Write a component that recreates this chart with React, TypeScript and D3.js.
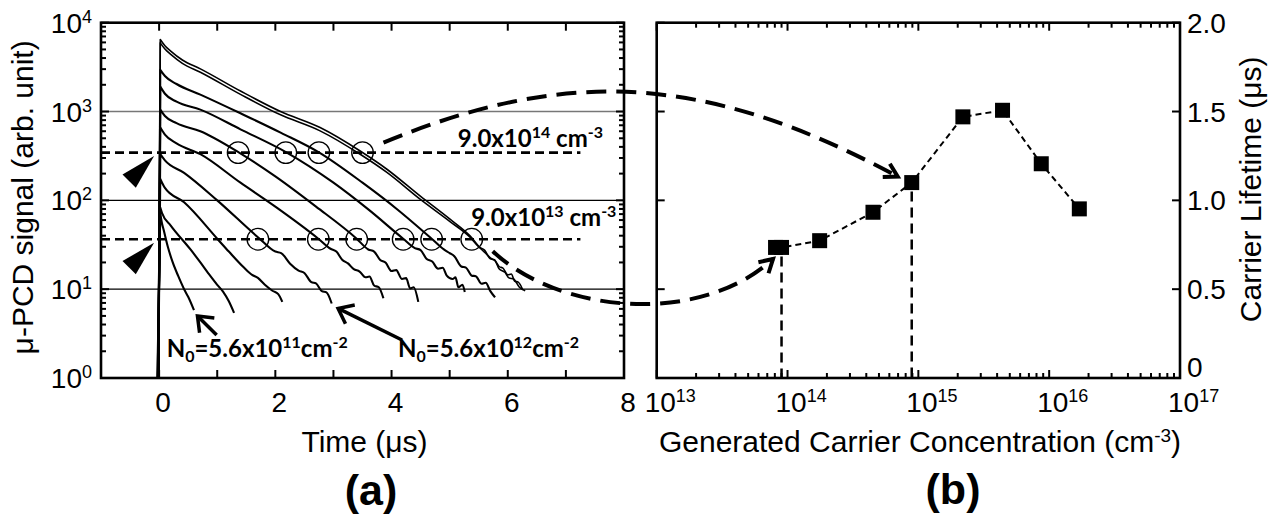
import React from "react";
import * as d3 from "d3";

const WIDTH = 1282;
const HEIGHT = 517;

// ---------------- Panel (a): μ-PCD decay curves (time μs, signal) ----------------
const curve0: [number, number][] = [[0.02, 71], [0.05, 55], [0.08, 46], [0.15, 30], [0.23, 20.4], [0.33, 14], [0.43, 10], [0.5, 8.2], [0.6, 5.8]];
const curve1: [number, number][] = [[0.02, 83], [0.05, 72], [0.2, 52], [0.54, 28], [0.71, 20], [0.85, 15], [1.0, 11.2], [1.1, 9.4], [1.2, 7.3], [1.29, 5.4]];
const curve2: [number, number][] = [[0.02, 174], [0.1, 138], [0.43, 95], [1.0, 37], [1.2, 26.5], [1.46, 17.5], [1.6, 14.5], [1.7, 13.4], [1.82, 11.2], [1.95, 9.6], [2.05, 8.8], [2.12, 7.2]];
const curve3: [number, number][] = [[0.02, 331], [0.1, 282], [0.43, 204], [1.0, 100], [1.71, 38], [2.0, 26.5], [2.1, 25.5], [2.25, 19.5], [2.4, 16.2], [2.5, 15.2], [2.62, 12], [2.7, 11.6], [2.8, 9.5], [2.88, 9.2], [2.97, 6.9]];
const curve4: [number, number][] = [[0.02, 660], [0.1, 550], [0.3, 437], [0.71, 331], [1.4, 158], [2.0, 85], [2.74, 37], [2.95, 28.5], [3.05, 26.5], [3.15, 21.5], [3.25, 19.5], [3.35, 16.8], [3.45, 15.8], [3.55, 13.6], [3.62, 13.9], [3.7, 11], [3.78, 10.5], [3.86, 7.9]];
const curve5: [number, number][] = [[0.02, 1050], [0.1, 890], [0.3, 740], [0.71, 600], [1.37, 347], [2.0, 186], [2.7, 85], [3.4, 37], [3.6, 28], [3.7, 26.5], [3.8, 21.5], [3.9, 19.8], [4.0, 16], [4.08, 16.4], [4.18, 13], [4.25, 13.3], [4.32, 10.2], [4.38, 10.5], [4.46, 7.2]];
const curve6: [number, number][] = [[0.02, 1905], [0.1, 1585], [0.3, 1290], [0.71, 1050], [1.4, 630], [2.19, 347], [3.0, 158], [3.6, 79], [4.2, 37], [4.4, 29], [4.5, 27.5], [4.6, 22], [4.7, 20.5], [4.8, 17], [4.88, 17.4], [4.95, 14.2], [5.05, 13], [5.1, 13.6], [5.15, 10.5], [5.22, 11.2], [5.26, 9.3]];
const curve7: [number, number][] = [[0.02, 2950], [0.1, 2510], [0.3, 2040], [0.71, 1550], [1.4, 955], [2.1, 575], [2.75, 347], [3.5, 158], [4.1, 79], [4.69, 37], [4.9, 28], [5.0, 25.5], [5.08, 23.5], [5.2, 18], [5.28, 17.5], [5.38, 14.2], [5.45, 14], [5.55, 11.5], [5.62, 11.8], [5.7, 9.5], [5.78, 8.1]];
const curve8: [number, number][] = [[0.02, 5930], [0.1, 5050], [0.2, 4400], [0.4, 3490], [0.71, 2770], [1.4, 1560], [2.09, 918], [2.77, 606], [3.46, 330], [3.92, 206], [4.49, 103], [5.0, 58], [5.35, 38.5], [5.5, 30], [5.6, 27.5], [5.7, 22], [5.77, 21.5], [5.85, 17], [5.95, 15.5], [6.02, 13.4], [6.1, 13], [6.2, 10.5], [6.3, 9.6]];
const curve9: [number, number][] = [[0.02, 6460], [0.1, 5500], [0.2, 4790], [0.4, 3800], [0.71, 3020], [1.4, 1700], [2.09, 1000], [2.77, 660], [3.46, 359], [3.92, 224], [4.49, 112], [5.0, 61.7], [5.35, 39.8], [5.55, 28], [5.63, 25], [5.72, 22], [5.78, 21], [5.85, 18], [5.92, 17.2], [6.0, 14.5], [6.06, 14.8], [6.12, 12.3], [6.18, 12], [6.26, 9.8]];
const decayCurves = [curve0, curve1, curve2, curve3, curve4, curve5, curve6, curve7, curve8, curve9];
const riseTimes = [-0.03, -0.025, -0.02, -0.02, -0.015, -0.015, -0.01, -0.01, -0.005, -0.005];

const levelValues = [345, 36.5];
const circleTimes14 = [1.36, 2.18, 2.75, 3.5];
const circleTimes13 = [1.7, 2.74, 3.4, 4.2, 4.69, 5.38];
const gridValues = [10, 100, 1000];
const timeTicks = [-1, 0, 1, 2, 3, 4, 5, 6, 7, 8];
const timeTickLabels = [0, 2, 4, 6, 8];
const signalExponents = [0, 1, 2, 3, 4];

// ---------------- Panel (b): carrier lifetime vs generated carrier concentration ----------------
const concentration = [8.1e13, 9.0e13, 1.76e14, 4.5e14, 8.9e14, 2.19e15, 4.4e15, 8.7e15, 1.7e16];
const lifetime = [0.735, 0.735, 0.773, 0.933, 1.1, 1.47, 1.507, 1.206, 0.952];
const markedIndex = [1, 4];
const concExponents = [13, 14, 15, 16, 17];
const lifetimeTicks = [0, 0.5, 1, 1.5, 2];
const lifetimeTickLabels = ["0", "0.5", "1.0", "1.5", "2.0"];

const AX = "'Liberation Sans', Arial, sans-serif";
const AN = "Lato, 'Open Sans', sans-serif";
const TICK_FS = 28;
const SUP_FS = 18;
const TITLE_FS = 30;

function chevron(tip: [number, number], from: [number, number], len: number, deg: number) {
  const a = Math.atan2(from[1] - tip[1], from[0] - tip[0]);
  const r = (deg * Math.PI) / 180;
  const p1 = [tip[0] + len * Math.cos(a + r), tip[1] + len * Math.sin(a + r)];
  const p2 = [tip[0] + len * Math.cos(a - r), tip[1] + len * Math.sin(a - r)];
  return `M${p1[0]},${p1[1]}L${tip[0]},${tip[1]}L${p2[0]},${p2[1]}`;
}

export default function App() {
  const xA = d3.scaleLinear().domain([-1, 8]).range([101, 624]);
  const yA = d3.scaleLog().domain([1, 1e4]).range([378, 22.7]);
  const xB = d3.scaleLog().domain([1e13, 1e17]).range([656.7, 1180]);
  const yB = d3.scaleLinear().domain([0, 2]).range([378, 22.7]);

  const lineA = d3
    .line<[number, number]>()
    .x((d) => xA(d[0]))
    .y((d) => yA(d[1]))
    .curve(d3.curveMonotoneX);
  const curvePath = (pts: [number, number][], rise: number) =>
    `M${xA(rise)},${yA(1)}L` + (lineA(pts) as string).slice(1);

  const [aL, aR] = xA.range();
  const [aB, aT] = yA.range();
  const [bL, bR] = xB.range();
  const [bB, bT] = yB.range();

  const logTicksA: { v: number; major: boolean }[] = [];
  for (let e = 0; e < 4; e++) for (let m = 1; m <= 9; m++) logTicksA.push({ v: m * 10 ** e, major: m === 1 });
  logTicksA.push({ v: 1e4, major: true });
  const logTicksB: { v: number; major: boolean }[] = [];
  for (let e = 13; e < 17; e++) for (let m = 1; m <= 9; m++) logTicksB.push({ v: m * 10 ** e, major: m === 1 });
  logTicksB.push({ v: 1e17, major: true });

  const lineB = d3
    .line<number>()
    .x((_, i) => xB(concentration[i]))
    .y((d) => yB(d));

  const s1: [number, number] = [xA(circleTimes14[3]) + 21, yA(levelValues[0]) - 10];
  const e1: [number, number] = [xB(concentration[4]) - 14, yB(lifetime[4]) - 6];
  const c11: [number, number] = [s1[0] + 177, aT + 47];
  const c12: [number, number] = [e1[0] - 198, aT + 47];
  const s2: [number, number] = [xA(circleTimes13[5]) + 21, yA(levelValues[1]) + 12];
  const e2: [number, number] = [xB(concentration[1]) - 8.5, yB(lifetime[1]) + 11.5];
  const c21: [number, number] = [s2[0] + 67, s2[1] + 63];
  const c22: [number, number] = [e2[0] - 73, e2[1] + 67];

  const tri = (v: number) => {
    const tx = xA(0) - 5;
    const ty = yA(v) + 3.5;
    return `M${tx},${ty}L${tx - 31.6},${ty + 18.3}L${tx - 18.3},${ty + 31.6}Z`;
  };

  return (
    <svg width={WIDTH} height={HEIGHT} style={{ position: "absolute", left: 0, top: 0, background: "#fff" }}>
      <rect x={0} y={0} width={WIDTH} height={HEIGHT} fill="#fff" />
      {/* ---------- Panel (a) ---------- */}
      {gridValues.map((g) => (
        <line key={g} x1={aL} x2={aR} y1={yA(g)} y2={yA(g)} stroke={g === 1000 ? "#777" : "#000"} strokeWidth={g === 1000 ? 1.6 : 1.2} />
      ))}
      {levelValues.map((v) => (
        <line key={v} x1={aL} x2={xA(7.25)} y1={yA(v)} y2={yA(v)} stroke="#000" strokeWidth={2.6} strokeDasharray="9 5" />
      ))}
      {decayCurves.map((c, i) => (
        <path key={i} d={curvePath(c, riseTimes[i])} fill="none" stroke="#000" strokeWidth={i >= 8 ? 1.6 : 2.1} strokeLinejoin="round" />
      ))}
      {circleTimes14.map((t) => (
        <circle key={"c14" + t} cx={xA(t)} cy={yA(levelValues[0])} r={10.8} fill="none" stroke="#000" strokeWidth={1.3} />
      ))}
      {circleTimes13.map((t) => (
        <circle key={"c13" + t} cx={xA(t)} cy={yA(levelValues[1])} r={10.8} fill="none" stroke="#000" strokeWidth={1.3} />
      ))}
      {levelValues.map((v) => (
        <path key={"tri" + v} d={tri(v)} fill="#000" />
      ))}
      {logTicksA.map((t, i) => (
        <g key={"la" + i}>
          <line x1={aL} x2={aL + (t.major ? 8 : 5)} y1={yA(t.v)} y2={yA(t.v)} stroke="#000" strokeWidth={2} />
          <line x1={aR} x2={aR - (t.major ? 8 : 5)} y1={yA(t.v)} y2={yA(t.v)} stroke="#000" strokeWidth={2} />
        </g>
      ))}
      {timeTicks.map((t) => (
        <g key={"ta" + t}>
          <line x1={xA(t)} x2={xA(t)} y1={aB} y2={aB - 8} stroke="#000" strokeWidth={2} />
          <line x1={xA(t)} x2={xA(t)} y1={aT} y2={aT + 8} stroke="#000" strokeWidth={2} />
        </g>
      ))}
      <rect x={aL} y={aT} width={aR - aL} height={aB - aT} fill="none" stroke="#000" strokeWidth={2.6} />
      {signalExponents.map((e) => (
        <text key={"ya" + e} x={92} y={yA(10 ** e) + 10} textAnchor="end" fontFamily={AX} fontSize={TICK_FS}>
          <tspan>10</tspan>
          <tspan dy={-10} fontSize={SUP_FS}>{e}</tspan>
        </text>
      ))}
      {timeTickLabels.map((t) => (
        <text key={"xa" + t} x={xA(t) + 4} y={412} textAnchor="middle" fontFamily={AX} fontSize={TICK_FS}>
          {t}
        </text>
      ))}
      <text x={(aL + aR) / 2 + 2} y={452} textAnchor="middle" fontFamily={AX} fontSize={TITLE_FS}>
        Time (μs)
      </text>
      <text transform={`translate(33,${(aT + aB) / 2 - 3}) rotate(-90)`} textAnchor="middle" fontFamily={AX} fontSize={TITLE_FS}>
        μ-PCD signal (arb. unit)
      </text>
      <text x={371} y={505} textAnchor="middle" fontFamily={AX} fontSize={43} fontWeight="bold">
        (a)
      </text>
      {/* annotations panel a */}
      <text x={xA(5.14)} y={yA(395)} fontFamily={AN} fontWeight="bold" fontSize={24}>
        <tspan>9.0x10</tspan>
        <tspan dy={-9} fontSize={16}>14</tspan>
        <tspan dy={9}> cm</tspan>
        <tspan dy={-9} fontSize={16}>-3</tspan>
      </text>
      <text x={xA(5.37)} y={yA(52)} fontFamily={AN} fontWeight="bold" fontSize={24}>
        <tspan>9.0x10</tspan>
        <tspan dy={-9} fontSize={16}>13</tspan>
        <tspan dy={9}> cm</tspan>
        <tspan dy={-9} fontSize={16}>-3</tspan>
      </text>
      {[
        { t: 0.13, exp: "11" },
        { t: 4.11, exp: "12" },
      ].map((n) => (
        <text key={n.exp} x={xA(n.t)} y={yA(1.71)} fontFamily={AN} fontWeight="bold" fontSize={24}>
          <tspan>N</tspan>
          <tspan dy={5} fontSize={16}>0</tspan>
          <tspan dy={-5}>=5.6x10</tspan>
          <tspan dy={-9} fontSize={16}>{n.exp}</tspan>
          <tspan dy={9}>cm</tspan>
          <tspan dy={-9} fontSize={16}>-2</tspan>
        </text>
      ))}
      {[
        { tail: [0.99, 3.05], tip: [0.66, 5.0] },
        { tail: [4.18, 2.68], tip: [3.08, 6.07] },
      ].map((a, i) => {
        const tail: [number, number] = [xA(a.tail[0]), yA(a.tail[1])];
        const tip: [number, number] = [xA(a.tip[0]), yA(a.tip[1])];
        return (
          <g key={"arr" + i} stroke="#000" strokeWidth={3.5} fill="none">
            <line x1={tail[0]} y1={tail[1]} x2={tip[0]} y2={tip[1]} />
            <path d={chevron(tip, tail, 17, 38)} strokeLinejoin="miter" />
          </g>
        );
      })}

      {/* ---------- Panel (b) ---------- */}
      {markedIndex.map((i) => (
        <line key={"v" + i} x1={xB(concentration[i])} x2={xB(concentration[i])} y1={yB(lifetime[i]) + 9} y2={bB} stroke="#000" strokeWidth={2.5} strokeDasharray="10 6" />
      ))}
      <path d={lineB(lifetime) as string} fill="none" stroke="#000" strokeWidth={2} strokeDasharray="6 4" />
      {lifetime.map((v, i) => (
        <rect key={"sq" + i} x={xB(concentration[i]) - 7.5} y={yB(v) - 7.5} width={15} height={15} fill="#000" />
      ))}
      {logTicksB.map((t, i) => (
        <g key={"lb" + i}>
          <line x1={xB(t.v)} x2={xB(t.v)} y1={bB} y2={bB - (t.major ? 8 : 5)} stroke="#000" strokeWidth={2} />
          <line x1={xB(t.v)} x2={xB(t.v)} y1={bT} y2={bT + (t.major ? 8 : 5)} stroke="#000" strokeWidth={2} />
        </g>
      ))}
      {lifetimeTicks.map((t) => (
        <g key={"yb" + t}>
          <line x1={bL} x2={bL + 8} y1={yB(t)} y2={yB(t)} stroke="#000" strokeWidth={2} />
          <line x1={bR} x2={bR - 8} y1={yB(t)} y2={yB(t)} stroke="#000" strokeWidth={2} />
        </g>
      ))}
      <rect x={bL} y={bT} width={bR - bL} height={bB - bT} fill="none" stroke="#000" strokeWidth={2.6} />
      {concExponents.map((e) => (
        <text key={"xb" + e} x={xB(10 ** e) - 12} y={412} fontFamily={AX} fontSize={TICK_FS}>
          <tspan>10</tspan>
          <tspan dy={-10} fontSize={SUP_FS}>{e}</tspan>
        </text>
      ))}
      {lifetimeTicks.map((t, i) => (
        <text key={"ybl" + t} x={1187} y={yB(t) + (t === 0 ? -1 : 10)} fontFamily={AX} fontSize={TICK_FS}>
          {lifetimeTickLabels[i]}
        </text>
      ))}
      <text x={920} y={452} textAnchor="middle" fontFamily={AX} fontSize={TITLE_FS}>
        <tspan>Generated Carrier Concentration (cm</tspan>
        <tspan dy={-10} fontSize={19}>-3</tspan>
        <tspan dy={10}>)</tspan>
      </text>
      <text transform={`translate(1261,${(bT + bB) / 2 - 11}) rotate(-90)`} textAnchor="middle" fontFamily={AX} fontSize={TITLE_FS}>
        Carrier Lifetime (μs)
      </text>
      <text x={953} y={504} textAnchor="middle" fontFamily={AX} fontSize={43} fontWeight="bold">
        (b)
      </text>

      {/* ---------- connectors ---------- */}
      <g stroke="#000" strokeWidth={4} fill="none">
        <path d={`M${s1[0]},${s1[1]}C${c11[0]},${c11[1]} ${c12[0]},${c12[1]} ${e1[0]},${e1[1]}`} strokeDasharray="20 10" />
        <path d={chevron(e1, c12, 15, 30)} />
        <path d={`M${s2[0]},${s2[1]}C${c21[0]},${c21[1]} ${c22[0]},${c22[1]} ${e2[0]},${e2[1]}`} strokeDasharray="20 10" />
        <path d={chevron(e2, c22, 15, 30)} />
      </g>
    </svg>
  );
}
